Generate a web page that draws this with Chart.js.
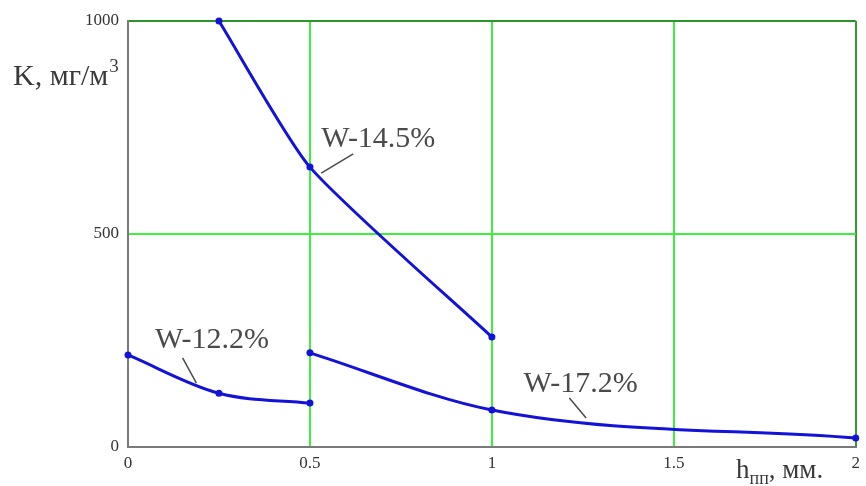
<!DOCTYPE html>
<html>
<head>
<meta charset="utf-8">
<script src="https://cdn.jsdelivr.net/npm/chart.js@4"></script>
<style>
  html, body { margin: 0; padding: 0; background: #ffffff; }
  #wrap { width: 866px; height: 486px; }
</style>
</head>
<body>
<div id="wrap"><canvas id="c" width="866" height="486"></canvas></div>
<script>
// ---- data ----
const xW145 = [0.25, 0.5, 1.0];
const yW145 = [1000, 657, 258];
const xW122 = [0, 0.25, 0.5];
const yW122 = [216, 126, 103];
const xW172 = [0.5, 1.0, 2.0];
const yW172 = [221, 87, 21];

const xTicks = [0, 0.5, 1, 1.5, 2];
const yTicks = [0, 500, 1000];
const xTickLabels = ['0', '0.5', '1', '1.5', '2'];
const yTickLabels = ['0', '500', '1000'];

const seriesNames = ['W-14.5%', 'W-12.2%', 'W-17.2%'];
// label anchors (data coords: left / baseline) and leader lines (data coords)
const labelX = [0.531, 0.074, 1.087];
const labelY = [704, 232, 129];
const leaderFrom = [[0.531, 643], [0.150, 209], [1.213, 115]];
const leaderTo = [[0.619, 688], [0.188, 150], [1.259, 68]];

const yTitle = 'K, мг/м';
const yTitleSup = '3';
const xTitleMain = 'h';
const xTitleSub = 'пп';
const xTitleRest = ', мм.';

const SERIF = '"Liberation Serif", "Times New Roman", "DejaVu Serif", serif';
const BLUE = '#1212d8';

function pts(xs, ys) { return xs.map((x, i) => ({ x: x, y: ys[i] })); }

function mkSet(name, xs, ys, mode, tension) {
  return {
    label: name,
    data: pts(xs, ys),
    borderColor: BLUE,
    backgroundColor: BLUE,
    borderWidth: 3,
    pointRadius: 3.5,
    pointHoverRadius: 3.5,
    pointBorderWidth: 0,
    cubicInterpolationMode: mode,
    tension: tension,
    fill: false,
    clip: 6
  };
}

const annotPlugin = {
  id: 'annot',
  afterDatasetsDraw(chart) {
    const ctx = chart.ctx;
    const xs = chart.scales.x, ys = chart.scales.y;
    ctx.save();
    // leader lines
    ctx.strokeStyle = '#4a4a4a';
    ctx.lineWidth = 1.5;
    for (let i = 0; i < seriesNames.length; i++) {
      ctx.beginPath();
      ctx.moveTo(xs.getPixelForValue(leaderFrom[i][0]), ys.getPixelForValue(leaderFrom[i][1]));
      ctx.lineTo(xs.getPixelForValue(leaderTo[i][0]), ys.getPixelForValue(leaderTo[i][1]));
      ctx.stroke();
    }
    // series labels
    ctx.fillStyle = '#4a4a4a';
    ctx.font = '30px ' + SERIF;
    ctx.textBaseline = 'alphabetic';
    ctx.textAlign = 'left';
    for (let i = 0; i < seriesNames.length; i++) {
      ctx.fillText(seriesNames[i], xs.getPixelForValue(labelX[i]), ys.getPixelForValue(labelY[i]));
    }
    // y axis title
    ctx.fillStyle = '#3a3a3a';
    ctx.font = '30px ' + SERIF;
    ctx.fillText(yTitle, 13, 85);
    const w = ctx.measureText(yTitle).width;
    ctx.font = '19px ' + SERIF;
    ctx.fillText(yTitleSup, 13 + w + 1, 72);
    // x axis title
    ctx.font = '27px ' + SERIF;
    let x0 = 736;
    ctx.fillText(xTitleMain, x0, 478);
    x0 += ctx.measureText(xTitleMain).width;
    ctx.font = '18px ' + SERIF;
    ctx.fillText(xTitleSub, x0, 484);
    x0 += ctx.measureText(xTitleSub).width;
    ctx.font = '27px ' + SERIF;
    ctx.fillText(xTitleRest, x0, 478);
    ctx.restore();
  }
};

const bgPlugin = {
  id: 'bg',
  beforeDraw(chart) {
    const ctx = chart.ctx;
    ctx.save();
    ctx.fillStyle = '#ffffff';
    ctx.fillRect(0, 0, chart.width, chart.height);
    ctx.restore();
  }
};

new Chart(document.getElementById('c'), {
  type: 'line',
  data: {
    datasets: [
      mkSet(seriesNames[0], xW145, yW145, 'default', 0.2),
      mkSet(seriesNames[1], xW122, yW122, 'monotone', 0),
      mkSet(seriesNames[2], xW172, yW172, 'monotone', 0)
    ]
  },
  options: {
    responsive: false,
    animation: false,
    events: [],
    layout: { padding: { top: 21, right: 4, left: 0, bottom: 0 } },
    plugins: { legend: { display: false }, tooltip: { enabled: false } },
    scales: {
      x: {
        type: 'linear',
        min: 0, max: 2,
        afterBuildTicks(scale) { scale.ticks = xTicks.map(v => ({ value: v })); },
        afterFit(scale) { scale.height = 39; },
        ticks: {
          autoSkip: false,
          maxRotation: 0,
          padding: 6,
          color: '#333333',
          font: { family: SERIF, size: 17 },
          callback(v) { const i = xTicks.indexOf(v); return i >= 0 ? xTickLabels[i] : ''; }
        },
        grid: {
          drawTicks: false,
          lineWidth: 2,
          color(c) {
            const v = c.tick && c.tick.value;
            if (v === 0) return 'rgba(0,0,0,0)';
            if (v === 2) return '#2f9d2f';
            return '#3ef03e';
          }
        },
        border: { display: true, color: '#7a7a7a', width: 2 }
      },
      y: {
        type: 'linear',
        min: 0, max: 1000,
        afterBuildTicks(scale) { scale.ticks = yTicks.map(v => ({ value: v })); },
        afterFit(scale) { scale.width = 128; },
        ticks: {
          autoSkip: false,
          padding: 9,
          color: '#333333',
          font: { family: SERIF, size: 17 },
          callback(v) { const i = yTicks.indexOf(v); return i >= 0 ? yTickLabels[i] : ''; }
        },
        grid: {
          drawTicks: false,
          lineWidth: 2,
          color(c) {
            const v = c.tick && c.tick.value;
            if (v === 0) return 'rgba(0,0,0,0)';
            if (v === 1000) return '#2a962a';
            return '#3ef03e';
          }
        },
        border: { display: true, color: '#7a7a7a', width: 2 }
      }
    }
  },
  plugins: [bgPlugin, annotPlugin]
});
</script>
</body>
</html>
